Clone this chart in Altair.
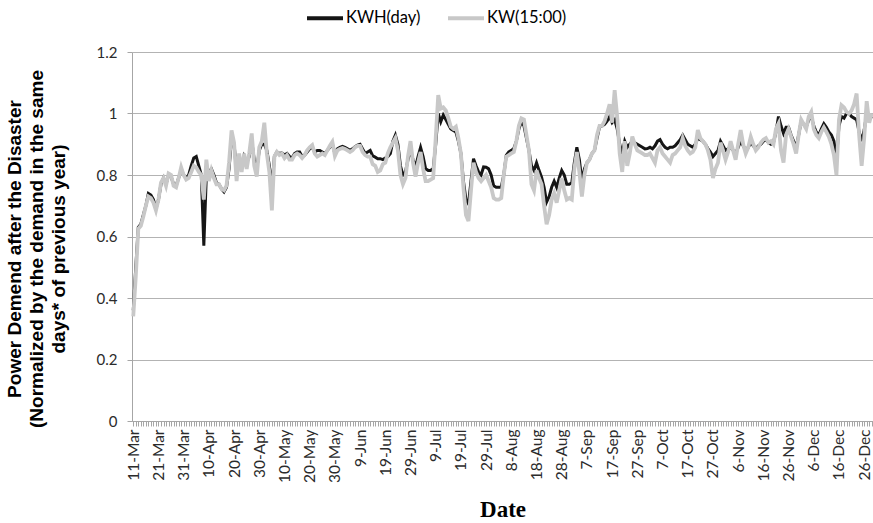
import json

import altair as alt
import pandas as pd

# Axis labels, one every ten days starting 11-Mar
tick_labels = [
    "11-Mar", "21-Mar", "31-Mar", "10-Apr", "20-Apr", "30-Apr", "10-May", "20-May",
    "30-May", "9-Jun", "19-Jun", "29-Jun", "9-Jul", "19-Jul", "29-Jul", "8-Aug",
    "18-Aug", "28-Aug", "7-Sep", "17-Sep", "27-Sep", "7-Oct", "17-Oct", "27-Oct",
    "6-Nov", "16-Nov", "26-Nov", "6-Dec", "16-Dec", "26-Dec",
]

series_names = ["KWH(day)", "KW(15:00)"]

# Daily energy demand, normalized by the same days of the previous year
kwh_day = [
    0.36, 0.50, 0.63, 0.64, 0.67, 0.70, 0.74, 0.735, 0.72, 0.69,
    0.72, 0.77, 0.79, 0.77, 0.80, 0.795, 0.77, 0.765, 0.79, 0.815,
    0.80, 0.79, 0.80, 0.83, 0.855, 0.86, 0.83, 0.80, 0.57, 0.80,
    0.81, 0.82, 0.80, 0.775, 0.77, 0.755, 0.745, 0.76, 0.82, 0.92,
    0.90, 0.81, 0.86, 0.82, 0.86, 0.84, 0.86, 0.91, 0.85, 0.82,
    0.88, 0.90, 0.90, 0.88, 0.83, 0.76, 0.86, 0.875, 0.87, 0.872,
    0.865, 0.87, 0.86, 0.855, 0.87, 0.875, 0.875, 0.86, 0.865, 0.875,
    0.885, 0.89, 0.875, 0.88, 0.88, 0.875, 0.87, 0.88, 0.89, 0.90,
    0.87, 0.885, 0.89, 0.893, 0.89, 0.885, 0.88, 0.885, 0.892, 0.897,
    0.90, 0.885, 0.87, 0.875, 0.88, 0.862, 0.858, 0.853, 0.853, 0.85,
    0.855, 0.86, 0.87, 0.91, 0.93, 0.90, 0.83, 0.80, 0.81, 0.85,
    0.88, 0.85, 0.826, 0.86, 0.89, 0.86, 0.82, 0.815, 0.815, 0.82,
    0.90, 1.00, 0.973, 0.995, 0.98, 0.965, 0.95, 0.945, 0.94, 0.91,
    0.87, 0.78, 0.72, 0.706, 0.78, 0.853, 0.83, 0.81, 0.80, 0.826,
    0.825, 0.82, 0.80, 0.765, 0.76, 0.76, 0.76, 0.80, 0.864, 0.875,
    0.88, 0.886, 0.91, 0.95, 0.973, 0.96, 0.92, 0.88, 0.83, 0.815,
    0.84, 0.815, 0.793, 0.76, 0.712, 0.73, 0.76, 0.78, 0.76, 0.79,
    0.815, 0.80, 0.77, 0.77, 0.775, 0.84, 0.89, 0.85, 0.78, 0.82,
    0.84, 0.85, 0.87, 0.88, 0.92, 0.957, 0.96, 0.965, 0.975, 0.99,
    0.97, 0.98, 0.95, 0.90, 0.87, 0.91, 0.89, 0.90, 0.91, 0.905,
    0.90, 0.895, 0.89, 0.885, 0.886, 0.89, 0.885, 0.895, 0.91, 0.915,
    0.90, 0.89, 0.885, 0.89, 0.89, 0.895, 0.905, 0.915, 0.93, 0.915,
    0.90, 0.895, 0.89, 0.90, 0.92, 0.915, 0.91, 0.90, 0.886, 0.875,
    0.86, 0.87, 0.88, 0.91, 0.895, 0.88, 0.885, 0.89, 0.88, 0.87,
    0.89, 0.91, 0.895, 0.88, 0.89, 0.905, 0.895, 0.885, 0.895, 0.90,
    0.91, 0.915, 0.905, 0.90, 0.905, 0.94, 0.99, 0.96, 0.935, 0.955,
    0.955, 0.93, 0.91, 0.89, 0.93, 0.975, 0.965, 0.956, 0.98, 0.99,
    0.96, 0.94, 0.93, 0.95, 0.967, 0.955, 0.94, 0.93, 0.91, 0.85,
    0.96, 0.99, 0.985, 1.00, 1.00, 0.99, 0.985, 0.98, 0.94, 0.91,
    0.946, 1.00, 0.98, 0.99,
]

# Peak demand at 15:00, normalized the same way
kw_1500 = [
    0.34, 0.47, 0.625, 0.635, 0.665, 0.70, 0.73, 0.725, 0.71, 0.685,
    0.72, 0.775, 0.79, 0.765, 0.805, 0.80, 0.765, 0.76, 0.79, 0.825,
    0.80, 0.785, 0.79, 0.81, 0.83, 0.825, 0.81, 0.80, 0.72, 0.85,
    0.78, 0.815, 0.79, 0.77, 0.77, 0.755, 0.75, 0.765, 0.84, 0.945,
    0.905, 0.78, 0.87, 0.81, 0.87, 0.82, 0.87, 0.935, 0.83, 0.795,
    0.89, 0.91, 0.97, 0.87, 0.81, 0.685, 0.86, 0.875, 0.865, 0.87,
    0.855, 0.865, 0.85, 0.85, 0.865, 0.87, 0.865, 0.855, 0.865, 0.88,
    0.89, 0.897, 0.87, 0.86, 0.865, 0.87, 0.865, 0.88, 0.895, 0.908,
    0.862, 0.88, 0.885, 0.888, 0.885, 0.88, 0.875, 0.88, 0.89, 0.895,
    0.895, 0.875, 0.865, 0.86, 0.86, 0.835, 0.83, 0.81, 0.815, 0.835,
    0.84, 0.87, 0.89, 0.905, 0.92, 0.88, 0.80, 0.77, 0.79, 0.86,
    0.91, 0.84, 0.795, 0.84, 0.875, 0.82, 0.78, 0.78, 0.785, 0.79,
    0.92, 1.06, 1.016, 1.02, 1.01, 0.985, 0.957, 0.95, 0.957, 0.92,
    0.87, 0.76, 0.67, 0.65, 0.75, 0.84, 0.81, 0.79, 0.78, 0.79,
    0.80, 0.78, 0.76, 0.725, 0.72, 0.72, 0.725, 0.80, 0.86, 0.865,
    0.87, 0.875, 0.91, 0.96, 0.984, 0.98, 0.93, 0.88, 0.77, 0.75,
    0.815, 0.79, 0.77, 0.70, 0.64, 0.67, 0.72, 0.74, 0.71, 0.75,
    0.79, 0.75, 0.72, 0.725, 0.72, 0.82, 0.875, 0.81, 0.73, 0.80,
    0.84, 0.85, 0.87, 0.88, 0.93, 0.96, 0.96, 0.975, 1.00, 1.03,
    0.97, 1.076, 0.99, 0.87, 0.81, 0.91, 0.83, 0.87, 0.925, 0.90,
    0.88, 0.875, 0.87, 0.865, 0.865, 0.87, 0.855, 0.84, 0.88, 0.89,
    0.87, 0.86, 0.85, 0.84, 0.865, 0.87, 0.88, 0.89, 0.92, 0.895,
    0.88, 0.87, 0.875, 0.89, 0.946, 0.92, 0.91, 0.90, 0.88, 0.85,
    0.79, 0.82, 0.84, 0.905, 0.88, 0.85, 0.875, 0.91, 0.88, 0.85,
    0.90, 0.946, 0.90, 0.87, 0.89, 0.924, 0.90, 0.88, 0.89, 0.905,
    0.915, 0.92, 0.905, 0.91, 0.90, 0.95, 0.967, 0.88, 0.84, 0.93,
    0.95, 0.925, 0.90, 0.87, 0.93, 0.98, 0.965, 0.95, 0.99, 1.005,
    0.95, 0.93, 0.92, 0.94, 0.955, 0.94, 0.924, 0.90, 0.865, 0.80,
    0.98, 1.027, 1.02, 1.005, 1.00, 1.01, 1.03, 1.065, 0.93, 0.83,
    0.92, 1.04, 0.97, 1.00,
]

y_ticks = [0, 0.2, 0.4, 0.6, 0.8, 1.0, 1.2]

day = list(range(len(kwh_day)))
df = pd.DataFrame({"day": day, "kwh": kwh_day, "kw": kw_1500})

W, H = 741, 369
label_expr = (
    "datum.value % 10 === 0 ? " + json.dumps(tick_labels) + "[datum.value / 10] : ''"
)

x_enc = alt.X(
    "day:Q",
    scale=alt.Scale(domain=[-0.5, len(day) - 0.5], nice=False, zero=False),
    axis=alt.Axis(
        values=day,
        labelExpr=label_expr,
        labelAngle=-90,
        labelOverlap=False,
        labelPadding=3,
        labelFontSize=15.5,
        tickSize=5,
        grid=False,
        title="Date",
        titleFont="Liberation Serif",
        titleFontSize=23,
        titleFontWeight="bold",
        titleX=W / 2,
        titleY=95,
        titleBaseline="alphabetic",
        titleAlign="center",
    ),
)

y_axis = alt.Axis(
    values=y_ticks,
    format=".1~f",
    tickSize=5,
    labelPadding=10,
    grid=True,
    title=[
        "Power Demend after the Disaster",
        "(Normalized by the demand in the same",
        "days* of previous year)",
    ],
    titleFont="Liberation Sans",
    titleFontSize=19,
    titleFontWeight="bold",
    titleLineHeight=22,
    titleAngle=270,
    titleX=-108,
    titleY=H / 2 + 12,
    titleAlign="center",
    titleBaseline="bottom",
)

color_scale = alt.Scale(domain=series_names, range=["#151515", "#c8c8c8"])
legend = alt.Legend(
    orient="none",
    legendX=173,
    legendY=-54,
    direction="horizontal",
    symbolType="stroke",
    symbolStrokeWidth=4,
    symbolSize=1296,
    labelFont="Lato",
    labelFontSize=16.5,
    labelColor="#000000",
    labelOffset=1,
    columnPadding=19,
    title=None,
)
color_enc = alt.Color("series:N", scale=color_scale, legend=legend)

base = alt.Chart(df)

kwh_line = (
    base.transform_calculate(series=json.dumps(series_names[0]))
    .mark_line(strokeWidth=3)
    .encode(
        x=x_enc,
        y=alt.Y("kwh:Q", scale=alt.Scale(domain=[0, 1.2], nice=False), axis=y_axis),
        color=color_enc,
    )
)

kw_line = (
    base.transform_calculate(series=json.dumps(series_names[1]))
    .mark_line(strokeWidth=3.8)
    .encode(x=x_enc, y=alt.Y("kw:Q"), color=color_enc)
)

chart = (
    alt.layer(kwh_line, kw_line)
    .properties(
        width=W,
        height=H,
        padding={"left": 132, "top": 52, "right": 0, "bottom": 102},
        autosize=alt.AutoSizeParams(type="none"),
        background="#ffffff",
    )
    .configure_view(stroke=None)
    .configure_axis(
        domainColor="#a6a6a6",
        tickColor="#a6a6a6",
        gridColor="#b3b3b3",
        labelFont="Lato",
        labelFontSize=15,
        labelColor="#2b2b2b",
        titleColor="#000000",
    )
)

chart.save("out.html", embed_options={"renderer": "svg", "actions": False})
